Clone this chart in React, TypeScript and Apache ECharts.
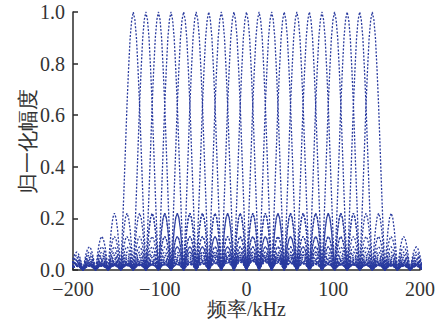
import React, { useEffect, useRef } from "react";
import * as echarts from "echarts";

// Channel centre frequencies (kHz)
const CHANNEL_CENTERS = [
  -130.5, -116, -101.5, -87, -72.5, -58, -43.5, -29, -14.5, 0,
  14.5, 29, 43.5, 58, 72.5, 87, 101.5, 116, 130.5, 145,
];
// Spacing between zero crossings of one channel's spectrum (kHz)
const ZERO_SPACING_KHZ = 14.5;
// Main lobe magnitude at offsets 0, 1/8, 2/8 ... 7/8 of the zero spacing
const MAIN_LOBE = [1, 0.97, 0.9, 0.78, 0.64, 0.47, 0.3, 0.14];
// Peak level of each side lobe, going outwards
const SIDELOBE_PEAKS = [
  0.22, 0.13, 0.09, 0.07, 0.058, 0.049, 0.042, 0.037, 0.034, 0.03, 0.028,
  0.026, 0.024, 0.022, 0.021, 0.02, 0.019, 0.018, 0.017, 0.016, 0.015, 0.0145,
  0.014,
];
// Relative shape of one side lobe, sampled in eighths of the zero spacing
const HUMP_SHAPE = [0, 0.38, 0.71, 0.92, 1, 0.92, 0.71, 0.38];

const X_MIN = -200;
const X_MAX = 200;
const X_STEP = 100;
const Y_MIN = 0;
const Y_MAX = 1;
const Y_STEP = 0.2;

const X_NAME = "频率/kHz";
const Y_NAME = "归一化幅度";

const FONT = "Times New Roman";

function lobeValue(k: number): number {
  if (k < MAIN_LOBE.length) return MAIN_LOBE[k];
  const n = Math.floor(k / 8) - 1;
  const j = k % 8;
  if (n >= SIDELOBE_PEAKS.length) return 0;
  return SIDELOBE_PEAKS[n] * HUMP_SHAPE[j];
}

function buildSeries() {
  const steps = (SIDELOBE_PEAKS.length + 1) * 8;
  return CHANNEL_CENTERS.map((c, i) => {
    const data: [number, number][] = [];
    for (let k = -steps; k <= steps; k++) {
      const x = c + (k / 8) * ZERO_SPACING_KHZ;
      if (x < X_MIN - 3 || x > X_MAX + 3) continue;
      data.push([x, lobeValue(Math.abs(k))]);
    }
    return {
      type: "line",
      name: "ch" + i,
      data,
      showSymbol: false,
      symbol: "none",
      silent: true,
      clip: true,
      lineStyle: { color: "#2a3b9f", width: 1.3, type: [2, 1.6] },
    };
  });
}

export default function App() {
  const ref = useRef<HTMLDivElement>(null);
  useEffect(() => {
    if (!ref.current) return;
    const chart = echarts.init(ref.current, undefined, { renderer: "svg" });
    const axisColor = "#2a2a2a";
    chart.setOption({
      animation: false,
      backgroundColor: "#ffffff",
      textStyle: { fontFamily: FONT },
      grid: {
        left: 73,
        right: 28,
        top: 12,
        bottom: 56,
        containLabel: false,
        outerBoundsMode: "none",
      },
      xAxis: {
        type: "value",
        min: X_MIN,
        max: X_MAX,
        interval: X_STEP,
        name: X_NAME,
        nameLocation: "middle",
        nameGap: 29,
        nameMoveOverlap: false,
        nameTextStyle: { fontFamily: FONT, fontSize: 20, color: "#333" },
        axisLine: { show: true, onZero: false, lineStyle: { color: axisColor, width: 1.5 } },
        axisTick: { show: true, inside: true, length: 5, lineStyle: { color: axisColor, width: 1.5 } },
        axisLabel: {
          fontFamily: FONT,
          fontSize: 20,
          color: "#333",
          margin: 9,
          formatter: (v: number) => (v < 0 ? "\u2212" + Math.abs(v) : String(v)),
        },
        splitLine: { show: false },
      },
      yAxis: {
        type: "value",
        min: Y_MIN,
        max: Y_MAX,
        interval: Y_STEP,
        name: Y_NAME,
        nameLocation: "middle",
        nameGap: 35,
        nameMoveOverlap: false,
        nameTextStyle: { fontFamily: FONT, fontSize: 21, color: "#333" },
        axisLine: { show: true, onZero: false, lineStyle: { color: axisColor, width: 1.5 } },
        axisTick: { show: true, inside: true, length: 5, lineStyle: { color: axisColor, width: 1.5 } },
        axisLabel: {
          fontFamily: FONT,
          fontSize: 20,
          color: "#333",
          margin: 8,
          formatter: (v: number) => v.toFixed(1),
        },
        splitLine: { show: false },
      },
      series: buildSeries(),
    });
    return () => chart.dispose();
  }, []);
  return (
    <div
      ref={ref}
      style={{ position: "fixed", left: 0, top: 0, width: 448, height: 326 }}
    />
  );
}
